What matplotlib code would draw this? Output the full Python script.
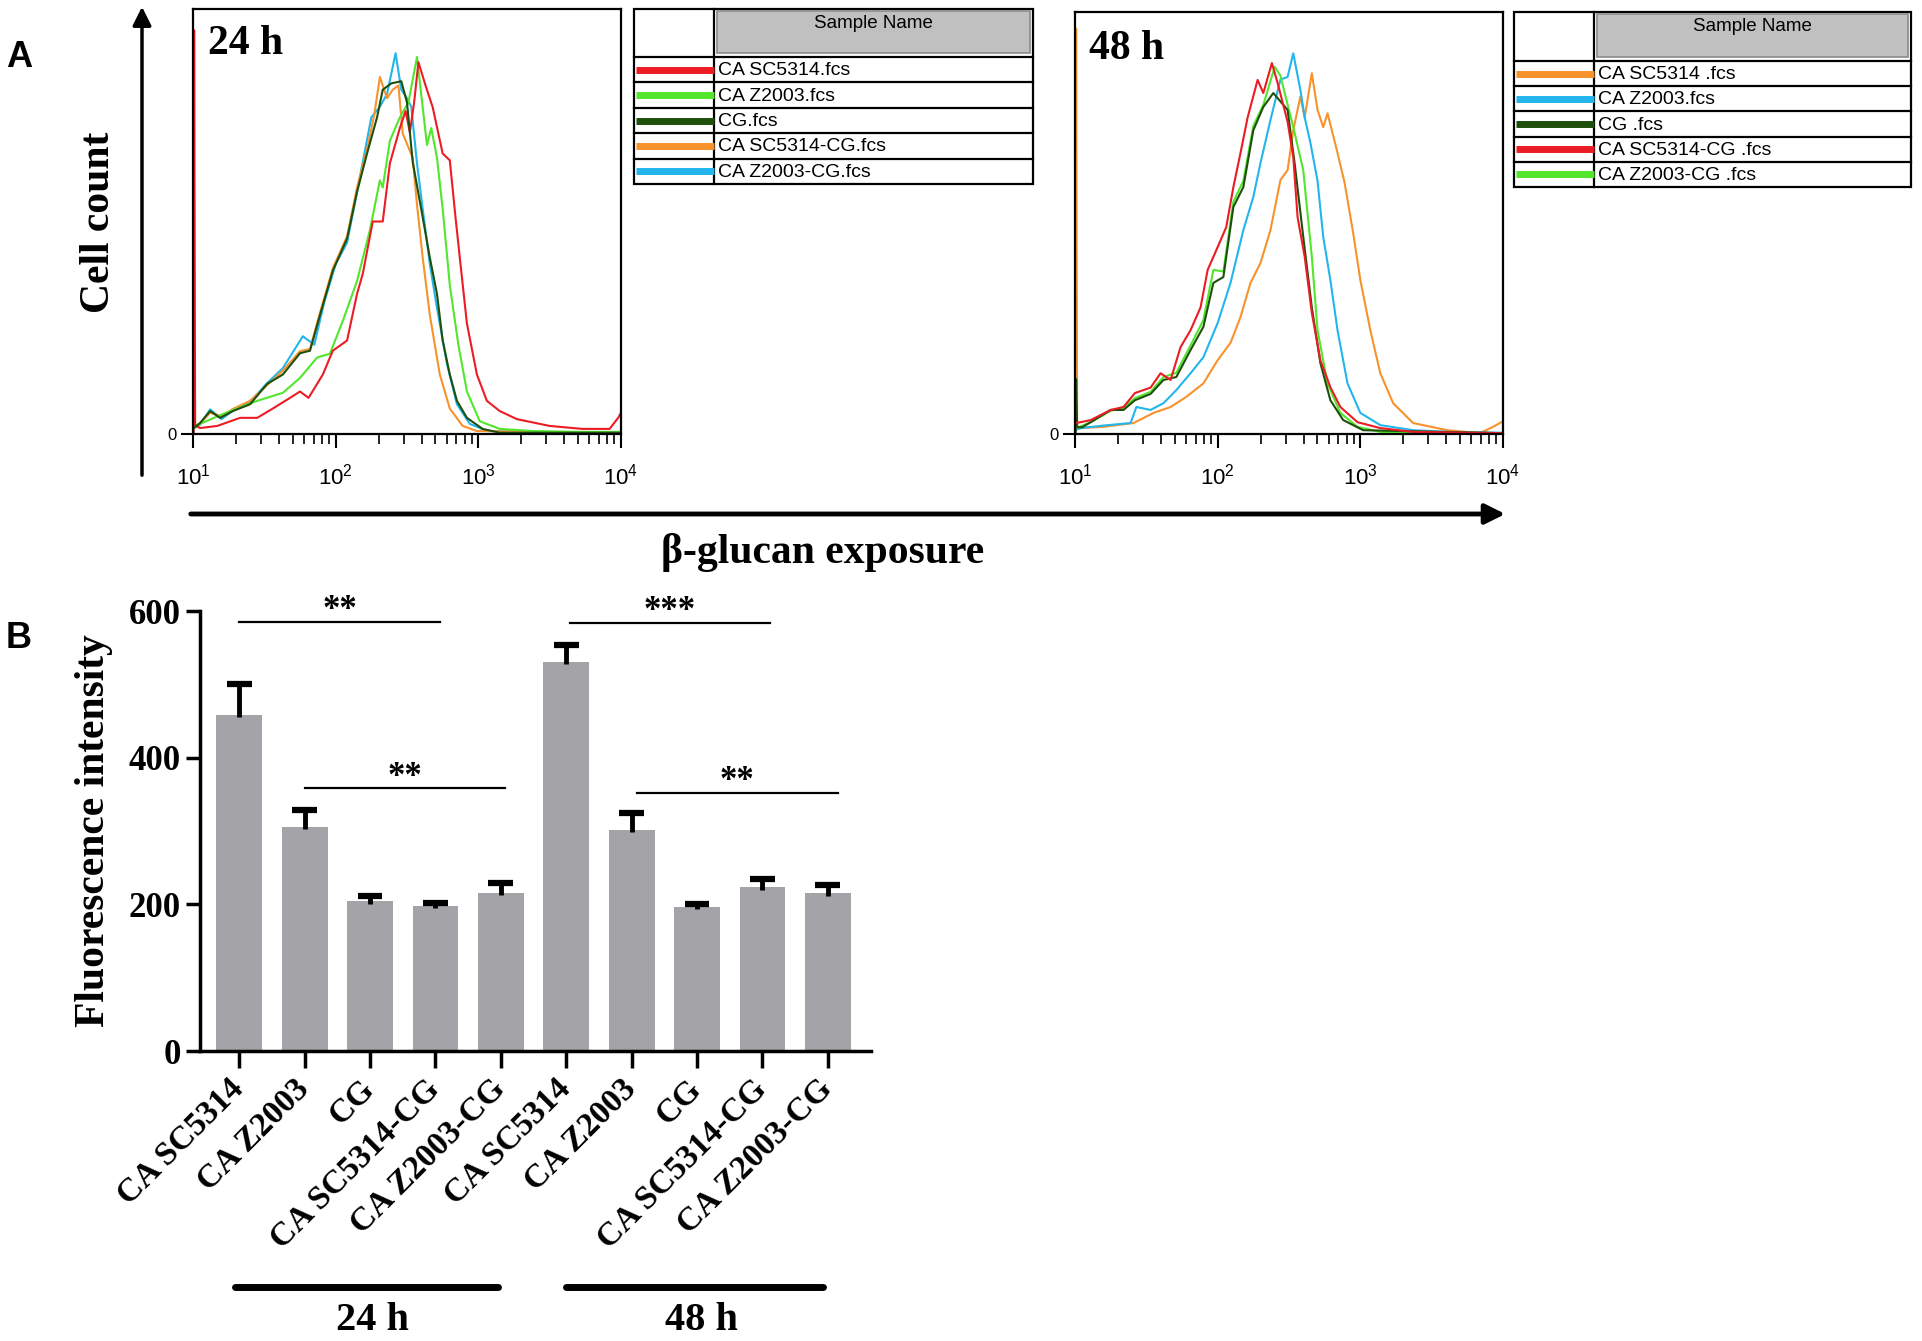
import numpy as np
import matplotlib
matplotlib.use("Agg")
import matplotlib.pyplot as plt
from matplotlib.patches import Rectangle
from matplotlib.ticker import NullFormatter

W, H = 1922, 1341
SERIF = "Liberation Serif"
SANS = "Liberation Sans"
plt.rcParams['font.family'] = [SERIF, 'DejaVu Serif']

# ---------------- panel A data (x in log10 units, y in % of max count) ----------------
red24_lx = [1.004, 1.008, 1.015, 1.05, 1.17, 1.33, 1.45, 1.56, 1.68, 1.75, 1.81, 1.91, 1.98, 2.08, 2.15, 2.19,
            2.26, 2.33, 2.38, 2.45, 2.49, 2.52, 2.55, 2.58, 2.63, 2.68, 2.75, 2.80, 2.84, 2.87, 2.92, 2.99,
            3.06, 3.15, 3.27, 3.50, 3.73, 3.92, 3.98, 4.00]
red24_y = [0, 95, 2, 1.4, 1.9, 3.8, 3.8, 6, 8.5, 10, 8.5, 14, 19.6, 22, 33, 37.7,
           50, 50, 63.7, 72, 76, 71, 78, 87.5, 82, 76.9, 66, 64.4, 51, 41.5, 26, 14,
           7.8, 5.4, 3.5, 1.9, 1.2, 1.2, 3.8, 5]
green24_lx = [1.004, 1.008, 1.015, 1.05, 1.21, 1.45, 1.63, 1.75, 1.87, 1.96, 2.05, 2.15, 2.24, 2.31, 2.33, 2.38,
              2.45, 2.51, 2.57, 2.64, 2.67, 2.71, 2.75, 2.80, 2.86, 2.92, 3.01, 3.15, 3.38, 3.70, 4.00]
green24_y = [0, 14, 2, 2.4, 4.7, 7.8, 9.7, 13.2, 18, 18.9, 26.6, 36, 48, 59.7, 58, 69,
             74.5, 78, 88.7, 68, 72, 65, 53, 35, 21, 10, 3, 1.2, 0.7, 0.5, 0.5]
cg24_lx = [1.01, 1.05, 1.12, 1.19, 1.28, 1.40, 1.52, 1.63, 1.75, 1.82, 1.89, 1.98, 2.08, 2.15, 2.22, 2.29,
           2.33, 2.39, 2.46, 2.50, 2.54, 2.61, 2.66, 2.71, 2.75, 2.80, 2.85, 2.92, 3.03, 3.15, 4.00]
cg24_y = [1.5, 2.6, 5.4, 3.8, 5.4, 7, 11.8, 14, 19, 19.6, 28, 38.4, 46, 57, 66, 74.5,
          81, 82.5, 83, 78, 64, 51, 41.5, 33, 22, 14, 7.8, 3.8, 1.2, 0.3, 0.3]
orange24_lx = [1.01, 1.05, 1.12, 1.20, 1.28, 1.40, 1.52, 1.63, 1.75, 1.82, 1.89, 1.98, 2.08, 2.15, 2.22,
               2.27, 2.31, 2.36, 2.40, 2.44, 2.47, 2.54, 2.57, 2.61, 2.66, 2.73, 2.80, 2.89, 2.99, 4.00]
orange24_y = [1.5, 2.5, 5, 4.2, 5.9, 7.8, 11.5, 14.9, 19.5, 20, 28.5, 39, 46.5, 58, 67,
              75, 84, 79, 81, 82, 70.7, 65, 54, 41.5, 28, 14, 6, 1.9, 0.7, 0.2]
cyan24_lx = [1.01, 1.05, 1.12, 1.20, 1.28, 1.40, 1.52, 1.63, 1.77, 1.85, 1.92, 2.00, 2.08, 2.15, 2.25,
             2.31, 2.36, 2.42, 2.46, 2.50, 2.53, 2.57, 2.61, 2.66, 2.71, 2.78, 2.85, 2.94, 3.06, 4.00]
cyan24_y = [1.5, 2.2, 5.8, 3.5, 5.5, 7.5, 12, 15.5, 23, 21, 31, 40, 45, 57, 74.5,
            77, 80, 89.6, 81, 79, 77, 63.7, 53, 40, 29.7, 16.5, 7, 2.4, 0.7, 0.2]

orange48_lx = [1.004, 1.008, 1.015, 1.04, 1.20, 1.41, 1.55, 1.67, 1.78, 1.90, 2.00, 2.09, 2.16, 2.23, 2.30,
               2.37, 2.44, 2.49, 2.53, 2.58, 2.61, 2.66, 2.70, 2.74, 2.77, 2.83, 2.89, 2.95, 3.00, 3.07,
               3.14, 3.23, 3.37, 3.61, 3.84, 3.93, 4.00]
orange48_y = [0, 96, 1.5, 1.4, 1.7, 2.6, 5, 6.4, 8.8, 12, 17.5, 21.6, 27.7, 35.8, 40.5,
              48.3, 60.2, 62.5, 72, 80, 75, 85.5, 76.8, 72.7, 76, 68, 59.5, 47.6, 36.5, 24.6,
              14.4, 7.3, 2.6, 0.9, 0.2, 1.7, 3]
cyan48_lx = [1.01, 1.04, 1.20, 1.39, 1.43, 1.53, 1.62, 1.71, 1.81, 1.90, 2.00, 2.09, 2.18, 2.25, 2.30, 2.37,
             2.44, 2.49, 2.53, 2.58, 2.61, 2.65, 2.70, 2.74, 2.79, 2.84, 2.91, 3.00, 3.14, 3.37, 3.61, 4.00]
cyan48_y = [1, 1.4, 2, 2.6, 6.4, 5.7, 7.3, 10.4, 14.4, 18.2, 26.3, 35.8, 48.3, 56.2, 64.2, 74.4,
            84, 84.6, 90.2, 81.5, 75, 69, 60, 46.7, 36.5, 24.6, 12, 5, 2.1, 0.9, 0.5, 0.3]
cg48_lx = [1.004, 1.008, 1.015, 1.05, 1.11, 1.25, 1.34, 1.42, 1.53, 1.62, 1.71, 1.81, 1.90, 1.97, 2.04,
           2.11, 2.18, 2.25, 2.32, 2.39, 2.46, 2.49, 2.54, 2.60, 2.66, 2.72, 2.79, 2.88, 3.02, 4.00]
cg48_y = [0, 13, 1.6, 1.6, 2.8, 5.7, 5.7, 8, 9.5, 12.8, 13.5, 19.9, 25.4, 35.8, 37.2,
          53.8, 58.5, 72, 77.5, 80.8, 78, 76.8, 64, 46.7, 30, 16.8, 8, 3.3, 0.9, 0.2]
red48_lx = [1.01, 1.11, 1.25, 1.34, 1.42, 1.53, 1.60, 1.67, 1.74, 1.81, 1.88, 1.93, 2.00, 2.06, 2.11, 2.16,
            2.21, 2.28, 2.32, 2.38, 2.42, 2.49, 2.53, 2.56, 2.61, 2.66, 2.72, 2.79, 2.86, 2.98, 3.14, 3.37, 4.00]
red48_y = [2.6, 3.3, 5.7, 6.4, 9.7, 11, 14.4, 12.8, 20.6, 24.6, 30, 38.9, 44.3, 49, 58.5, 66.6,
           75, 83.9, 80.8, 87.9, 83.2, 74, 65.6, 51.4, 42, 28.7, 17.5, 11.1, 6.4, 2.8, 1.4, 0.5, 0.2]
green48_lx = [1.01, 1.11, 1.25, 1.34, 1.42, 1.53, 1.62, 1.71, 1.81, 1.90, 1.97, 2.04, 2.11, 2.18, 2.25,
              2.32, 2.40, 2.44, 2.53, 2.60, 2.66, 2.70, 2.77, 2.86, 2.98, 3.14, 4.00]
green48_y = [1.4, 2.8, 5.5, 6.2, 8.5, 10, 13.5, 14.5, 21, 27, 38.9, 38.5, 55, 60, 73,
             78, 87, 84.9, 72.7, 62.5, 42, 24.6, 12, 5, 1.7, 0.5, 0.2]

RED, GREEN, DKGREEN, ORANGE, CYAN = '#ec1c24', '#52e62c', '#1e500c', '#f7922c', '#22b6ec'

names24 = ['CA SC5314.fcs', 'CA Z2003.fcs', 'CG.fcs', 'CA SC5314-CG.fcs', 'CA Z2003-CG.fcs']
colors24 = [RED, GREEN, DKGREEN, ORANGE, CYAN]
names48 = ['CA SC5314 .fcs', 'CA Z2003.fcs', 'CG .fcs', 'CA SC5314-CG .fcs', 'CA Z2003-CG .fcs']
colors48 = [ORANGE, CYAN, DKGREEN, RED, GREEN]

# ---------------- panel B data ----------------
groups = ['CA SC5314', 'CA Z2003', 'CG', 'CA SC5314-CG', 'CA Z2003-CG',
          'CA SC5314', 'CA Z2003', 'CG', 'CA SC5314-CG', 'CA Z2003-CG']
means = [458, 306, 204, 198, 216, 531, 302, 197, 223, 215]
sem_up = [42, 23, 7, 4, 13, 23, 22, 4, 12, 11]
# (start bar, end bar, line height, star label)
sig = [(0, 3.07, 585, '**'), (1, 4.07, 358, '**'), (5.05, 8.12, 584, '***'), (6.08, 9.15, 352, '**')]


def box(x0, y0, x1, y1):
    return [x0 / W, 1 - y1 / H, (x1 - x0) / W, (y1 - y0) / H]


fig = plt.figure(figsize=(W / 100, H / 100), dpi=100)


def hist_panel(rect, curves, label, lab_xy):
    ax = fig.add_axes(rect)
    for lx, yy, c in curves:
        ax.plot(10 ** np.array(lx), yy, color=c, lw=1.5)
    ax.set_xscale('log')
    ax.set_xlim(10, 1e4)
    ax.set_ylim(0, 100)
    ax.set_yticks([0])
    ax.set_yticklabels(['0'], fontsize=12, family=SANS)
    ax.xaxis.set_minor_formatter(NullFormatter())
    ax.tick_params(axis='x', which='major', direction='out', length=10, width=1.5, pad=11)
    ax.tick_params(axis='x', which='minor', direction='out', length=7, width=1.2)
    ax.tick_params(axis='y', direction='out', length=9, width=1.5, pad=3)
    for lab in ax.get_xticklabels():
        lab.set_fontfamily(SANS)
        lab.set_fontsize(16)
    for s in ax.spines.values():
        s.set_linewidth(1.6)
    ax.text(lab_xy[0], lab_xy[1], label, transform=ax.transAxes, ha='left', va='top',
            fontsize=30, fontweight='bold', family=SERIF)
    return ax


ax24 = hist_panel(box(193, 9, 621, 434),
                  [(cyan24_lx, cyan24_y, CYAN), (orange24_lx, orange24_y, ORANGE),
                   (green24_lx, green24_y, GREEN), (red24_lx, red24_y, RED),
                   (cg24_lx, cg24_y, DKGREEN)], '24 h', (0.035, 0.962))
ax48 = hist_panel(box(1075, 12, 1503, 434),
                  [(orange48_lx, orange48_y, ORANGE), (cyan48_lx, cyan48_y, CYAN),
                   (green48_lx, green48_y, GREEN), (cg48_lx, cg48_y, DKGREEN),
                   (red48_lx, red48_y, RED)], '48 h', (0.032, 0.958))

# ---------------- panel B ----------------
axB = fig.add_axes(box(200, 611, 871, 1051))
xpos = np.arange(len(means))
tops = np.array(means) + np.array(sem_up)
axB.bar(xpos, means, width=0.7, color='#a3a3a8', zorder=2)
# upper-only error bars: stem from bar top, cap on top
axB.vlines(xpos, np.array(means) - 3, tops, color='black', lw=3.5, zorder=3)
axB.hlines(tops, xpos - 0.19, xpos + 0.19, color='black', lw=4.5, zorder=3)
axB.set_xlim(-0.6, 9.66)
axB.set_ylim(0, 600)
axB.set_yticks([0, 200, 400, 600])
axB.set_yticklabels(['0', '200', '400', '600'], fontsize=25, fontweight='bold')
axB.set_xticks(xpos)
axB.set_xticklabels(groups, rotation=45, ha='right', va='center', rotation_mode='anchor',
                    fontsize=24, fontweight='bold')
axB.tick_params(axis='y', direction='out', length=10, width=2.5, pad=4)
axB.tick_params(axis='x', direction='out', length=12, width=2.5, pad=12)
for side in ['top', 'right']:
    axB.spines[side].set_visible(False)
for side in ['left', 'bottom']:
    axB.spines[side].set_linewidth(2.5)
axB.set_ylabel('Fluorescence intensity', fontsize=30, fontweight='bold')
axB.yaxis.set_label_coords(-0.13, 0.5)

for x0, x1, yl, stars in sig:
    axB.plot([x0, x1], [yl, yl], color='black', lw=1.6, clip_on=False)
    axB.text((x0 + x1) / 2, yl + 4, stars, ha='center', va='baseline', fontsize=25,
             fontweight='bold', clip_on=False)

tr = axB.get_xaxis_transform()
for x0, x1, lab in [(-0.07, 3.95, '24 h'), (5.0, 8.93, '48 h')]:
    axB.plot([x0, x1], [-0.536, -0.536], transform=tr, color='black', lw=5,
             solid_capstyle='round', clip_on=False)
    axB.text((x0 + x1) / 2 + 0.1, -0.612, lab, transform=tr, ha='center', va='center',
             fontsize=29, fontweight='bold')

# ---------------- overlay in pixel coordinates ----------------
ov = fig.add_axes([0, 0, 1, 1])
ov.set_xlim(0, W)
ov.set_ylim(H, 0)
ov.axis('off')
ov.patch.set_visible(False)


def draw_table(x0, x1, y0, y1, xdiv, yhead, names, colors):
    ov.add_patch(Rectangle((x0, y0), x1 - x0, y1 - y0, fill=False, lw=1.6, ec='black'))
    ov.plot([xdiv, xdiv], [y0, y1], color='black', lw=1.6)
    ov.add_patch(Rectangle((xdiv + 3, y0 + 2), x1 - xdiv - 6, yhead - y0 - 6,
                           fc='#c0c0c0', ec='#8a8a8a', lw=1.2))
    ov.text((xdiv + x1) / 2, y0 + 14, 'Sample Name', ha='center', va='center',
            fontsize=13.5, family=SANS)
    rowh = (y1 - yhead) / len(names)
    for i, (nm, c) in enumerate(zip(names, colors)):
        yt = yhead + i * rowh
        ov.plot([x0, x1], [yt, yt], color='black', lw=1.6)
        yc = yt + rowh / 2
        ov.plot([x0 + 2, xdiv], [yc, yc], color=c, lw=5, solid_capstyle='butt')
        ov.text(xdiv + 4, yc + 1, nm, ha='left', va='center', fontsize=14, family=SANS)


draw_table(634, 1033, 9, 184, 714, 57, names24, colors24)
draw_table(1514, 1911, 12, 187, 1594, 61, names48, colors48)

ov.annotate('', xy=(142, 4), xytext=(142, 478),
            arrowprops=dict(arrowstyle='-|>', lw=2.5, color='black', mutation_scale=28))
ov.annotate('', xy=(1508, 514), xytext=(188, 514),
            arrowprops=dict(arrowstyle='-|>', lw=3.5, color='black', mutation_scale=30))
ov.text(99, 222, 'Cell count', rotation=90, ha='center', va='center', fontsize=30, fontweight='bold')
ov.text(823, 552, 'β-glucan exposure', ha='center', va='center', fontsize=30, fontweight='bold')
ov.text(6, 57, 'A', ha='left', va='center', fontsize=26, fontweight='bold', family=SANS)
ov.text(6, 638, 'B', ha='left', va='center', fontsize=26, fontweight='bold', family=SANS)

fig.savefig('out.png', dpi=100)
